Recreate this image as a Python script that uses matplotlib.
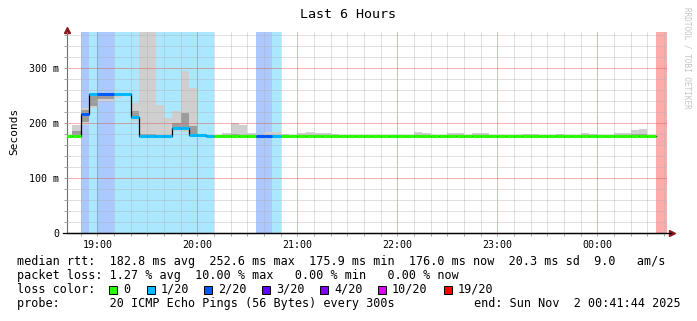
import numpy as np
import pandas as pd
import matplotlib
matplotlib.use('Agg')
import matplotlib.pyplot as plt
from matplotlib.patches import Rectangle

plt.rcParams['font.family'] = 'DejaVu Sans Mono'

W, H = 697, 321

# 5 minute steps, the first one starts at 18:40
step_start = pd.date_range('2025-11-01 18:40', periods=73, freq='5min')
view_start = pd.Timestamp('2025-11-01 18:41:44')
view_end = pd.Timestamp('2025-11-02 00:41:44')
hour_ticks = [19, 20, 21, 22, 23, 24]
hour_labels = ['19:00', '20:00', '21:00', '22:00', '23:00', '00:00']

nan = np.nan
median_ms = [177, 177, 217, 253, 253, 253, 253, 253, 212, 177, 177, 177, 177, 191, 191, 179, 178, 177,
             177, 177, 177, 177, 177, 177, 177, 177, 177, 177, 177, 177, 177, 177, 177, 177, 177, 177,
             177, 177, 177, 177, 177, 177, 177, 177, 177, 177, 177, 177, 177, 177, 177, 177, 177, 177,
             177, 177, 177, 177, 177, 177, 177, 177, 177, 177, 177, 177, 177, 177, 177, 177, 177, nan, nan]

loss = [0, 0, 2, 1, 2, 2, 1, 1, 1, 1, 1, 1, 1, 1, 1, 1, 1, 1,
        0, 0, 0, 0, 0, 2, 2, 1, 0, 0, 0, 0, 0, 0, 0, 0, 0, 0,
        0, 0, 0, 0, 0, 0, 0, 0, 0, 0, 0, 0, 0, 0, 0, 0, 0, 0,
        0, 0, 0, 0, 0, 0, 0, 0, 0, 0, 0, 0, 0, 0, 0, 0, 0, 20, 20]

smoke_max = [177, 197, 228, 254, 254, 254, 254, 254, 237, 420, 420, 233, 210, 222, 296, 265, 180, 179,
             178, 182, 200, 197, 182, 179, 185, 185, 180, 177, 183, 184, 182, 182, 180, 177, 177, 177,
             177, 177, 177, 177, 177, 177, 184, 182, 177, 177, 182, 182, 177, 182, 182, 177, 177, 177,
             177, 181, 181, 177, 177, 181, 177, 177, 182, 181, 177, 177, 182, 182, 188, 189, 177, nan, nan]

smoke_min = [177, 175, 197, 227, 240, 240, 246, 253, 205, 176, 176, 176, 176, 186, 185, 176, 176, 176,
             176, 176, 176, 176, 176, 176, 176, 176, 176, 176, 176, 176, 176, 176, 176, 176, 176, 176,
             176, 176, 176, 176, 176, 176, 176, 176, 176, 176, 176, 176, 176, 176, 176, 176, 176, 176,
             176, 176, 176, 176, 176, 176, 176, 176, 176, 176, 176, 176, 176, 176, 176, 176, 176, nan, nan]

smoke_q3 = [177, 186, 224, 252, 253, 253, 253, 253, 222, 181, 181, 179, 179, 200, 218, 195, 177, 177,
            177, 178, 180, 179, 177, 177, 178, 178, 177, 177, 177, 177, 177, 177, 177, 177, 177, 177,
            177, 177, 177, 177, 177, 177, 178, 177, 177, 177, 177, 177, 177, 177, 177, 177, 177, 177,
            177, 177, 177, 177, 177, 177, 177, 177, 177, 177, 177, 177, 177, 177, 180, 180, 177, nan, nan]

smoke_q1 = [177, 177, 203, 232, 244, 244, 249, 253, 209, 177, 177, 177, 177, 188, 188, 178, 177, 177,
            177, 177, 177, 177, 177, 177, 177, 177, 177, 177, 177, 177, 177, 177, 177, 177, 177, 177,
            177, 177, 177, 177, 177, 177, 177, 177, 177, 177, 177, 177, 177, 177, 177, 177, 177, 177,
            177, 177, 177, 177, 177, 177, 177, 177, 177, 177, 177, 177, 177, 177, 177, 177, 177, nan, nan]

loss_levels = [0, 1, 2, 3, 4, 10, 19]
loss_labels = ['0', '1/20', '2/20', '3/20', '4/20', '10/20', '19/20']
loss_colors = ['#26ff00', '#00b8ff', '#0059ff', '#5e00ff', '#7e00ff', '#dd00ff', '#ff0000']


def to_hours(ts):
    return (ts - pd.Timestamp('2025-11-01')).total_seconds() / 3600.0


def loss_color(n):
    c = loss_colors[0]
    for lvl, col in zip(loss_levels, loss_colors):
        if n >= lvl:
            c = col
    return c


x = np.array([to_hours(t) for t in step_start])
step_w = 5 / 60.0
med = np.array(median_ms, dtype=float)

fig = plt.figure(figsize=(W / 100, H / 100), dpi=100)
ax = fig.add_axes([67 / W, 1 - 233.3 / H, 600 / W, 201 / H])
ymax = 365.5

# loss background
for xi, n in zip(x, loss):
    if n > 0:
        ax.bar(xi, ymax, step_w, bottom=0, align='edge', color=loss_color(n),
               alpha=0.33, linewidth=0, zorder=1)

# smoke
lo = np.array(smoke_min, dtype=float)
hi = np.array(smoke_max, dtype=float)
q1 = np.array(smoke_q1, dtype=float)
q3 = np.array(smoke_q3, dtype=float)
ax.bar(x, hi - lo, step_w, bottom=lo, align='edge', color='#cfcfcf', linewidth=0, zorder=2)
ax.bar(x, q3 - q1, step_w, bottom=q1, align='edge', color='#9c9c9c', linewidth=0, zorder=2.2)

# median line, black joints then colored by loss
ax.step(np.append(x, x[-1] + step_w), np.append(med, med[-1]), where='post',
        color='black', linewidth=0.9, zorder=4)
ax.hlines(med, x, x + step_w, colors=[loss_color(n) for n in loss], linewidth=2.2, zorder=5)

ax.set_xlim(to_hours(view_start), to_hours(view_end))
ax.set_ylim(0, ymax)

ax.set_xticks(hour_ticks)
ax.set_xticklabels(hour_labels)
ax.set_xticks(np.arange(18 + 50 / 60, 24.7, 1 / 6), minor=True)
ax.set_yticks([0, 100, 200, 300])
ax.set_yticklabels(['0', '100 m', '200 m', '300 m'])
ax.set_yticks(np.arange(0, 365, 20), minor=True)

ax.set_axisbelow(False)
ax.grid(True, which='minor', color='#b0b0b0', alpha=0.38, linewidth=0.72)
ax.grid(True, which='major', color='#e15555', alpha=0.45, linewidth=0.72)

ax.tick_params(axis='both', which='both', labelsize=7.2, color='#a0a0a0', length=2.5, width=0.7)
ax.tick_params(axis='x', pad=2.5)
ax.tick_params(axis='y', pad=3)

for side in ['top', 'right']:
    ax.spines[side].set_visible(False)
ax.spines['left'].set_color('#707070')
ax.spines['left'].set_linewidth(0.8)
ax.spines['bottom'].set_color('black')
ax.spines['bottom'].set_linewidth(0.9)
ax.plot([-0.007, 1.006], [0, 0], transform=ax.transAxes, color='black', linewidth=0.9, clip_on=False, zorder=6)
ax.plot([0], [1.012], marker='^', markersize=4, color='#8b1a1a', transform=ax.transAxes, clip_on=False)
ax.plot([1.009], [0], marker='>', markersize=4, color='#8b1a1a', transform=ax.transAxes, clip_on=False)

# texts
fig.text(0.5, 1 - 15 / H, 'Last 6 Hours', ha='center', va='center', fontsize=9.6)
fig.text(14 / W, 1 - 131.7 / H, 'Seconds', rotation=90, ha='center', va='center', fontsize=8)
fig.text(687 / W, 1 - 7 / H, 'RRDTOOL / TOBI OETIKER', rotation=270, ha='center', va='top',
         fontsize=5.5, color='#c4c4c4')

fs = 8.5
lx = 16.7 / W
fig.text(lx, 1 - 261.7 / H,
         'median rtt:  182.8 ms avg  252.6 ms max  175.9 ms min  176.0 ms now  20.3 ms sd  9.0   am/s',
         ha='left', va='center', fontsize=fs)
fig.text(lx, 1 - 275.5 / H,
         'packet loss: 1.27 % avg  10.00 % max   0.00 % min   0.00 % now',
         ha='left', va='center', fontsize=fs)
fig.text(lx, 1 - 289.3 / H, 'loss color:', ha='left', va='center', fontsize=fs)
sq_x = [109, 147, 204, 262, 320, 378, 444]
for sx, col, lab in zip(sq_x, loss_colors, loss_labels):
    fig.add_artist(Rectangle((sx / W, 1 - 293.5 / H), 8 / W, 8 / H, transform=fig.transFigure,
                             facecolor=col, edgecolor='black', linewidth=0.7))
    fig.text((sx + 14) / W, 1 - 289.3 / H, lab, ha='left', va='center', fontsize=fs)
fig.text(lx, 1 - 303.3 / H, 'probe:       20 ICMP Echo Pings (56 Bytes) every 300s',
         ha='left', va='center', fontsize=fs)
fig.text(681 / W, 1 - 303.3 / H, 'end: Sun Nov  2 00:41:44 2025', ha='right', va='center', fontsize=fs)

fig.savefig('out.png', dpi=100)
